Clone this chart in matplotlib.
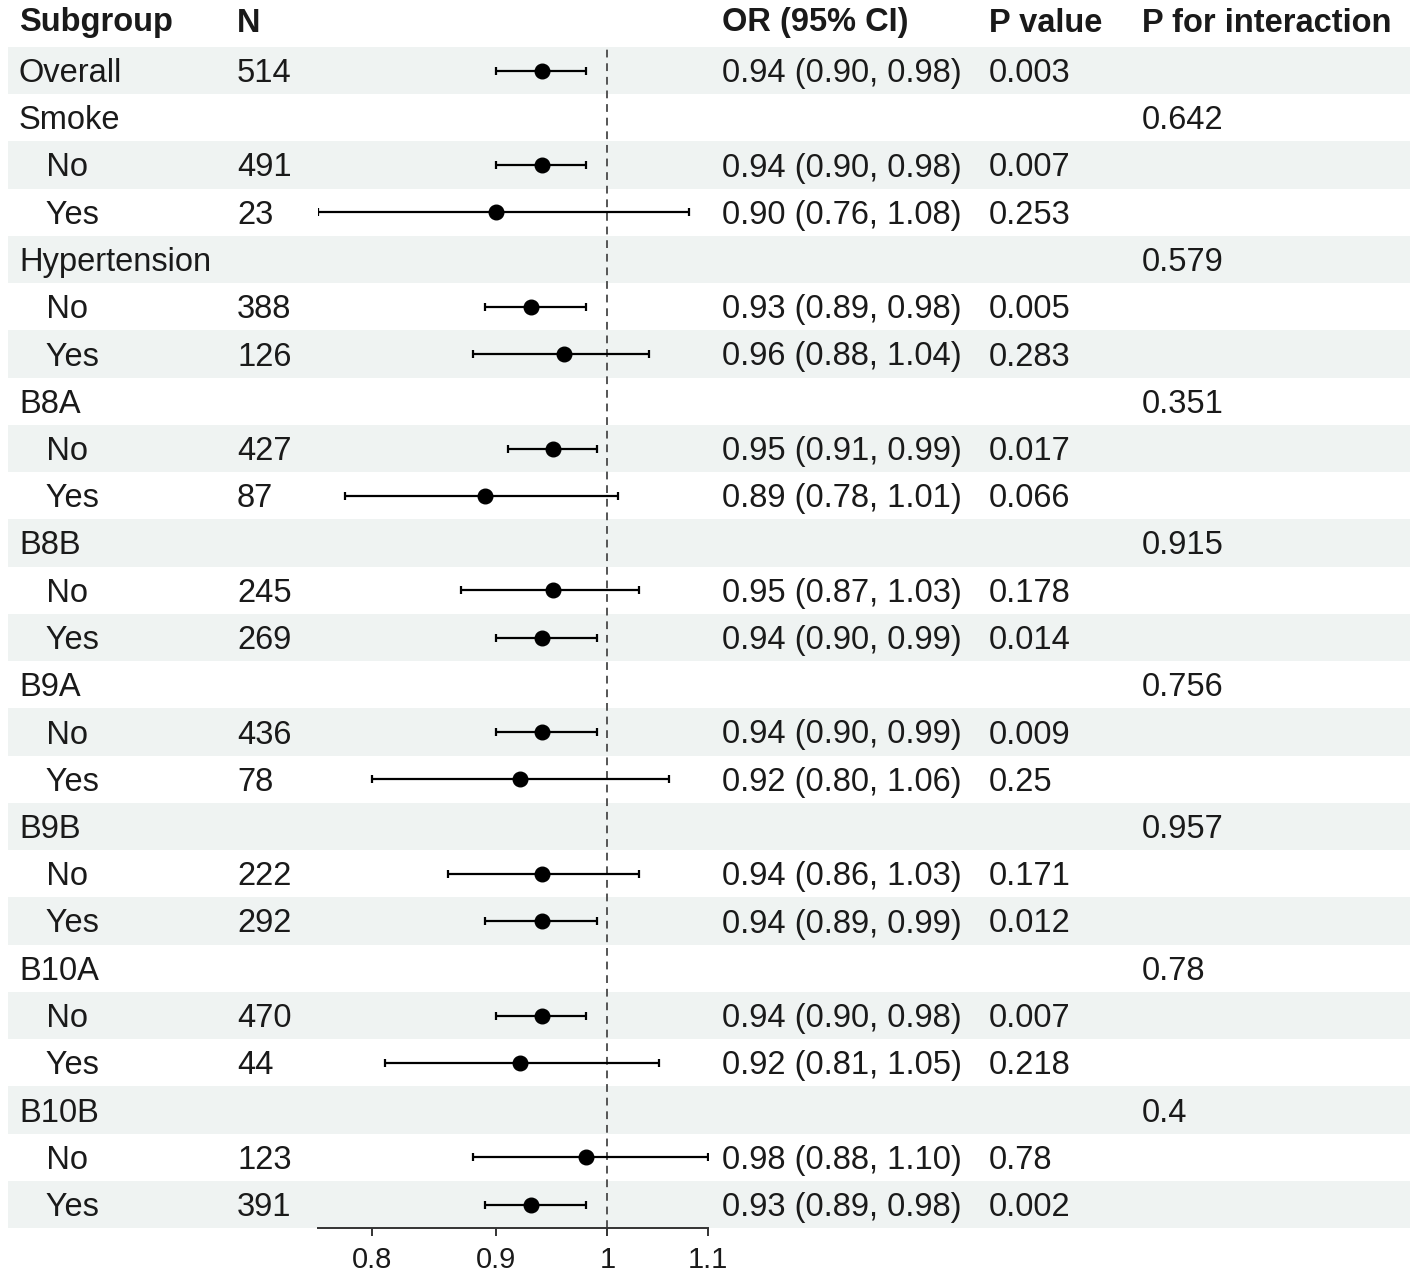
import matplotlib.pyplot as plt
from matplotlib.patches import Rectangle
from matplotlib.ticker import FixedLocator, FixedFormatter, NullLocator
import numpy as np

plt.rcParams["font.family"] = ["Liberation Sans", "DejaVu Sans"]

# table data
subgroup = ["Overall", "Smoke", "   No", "   Yes", "Hypertension", "   No", "   Yes",
            "B8A", "   No", "   Yes", "B8B", "   No", "   Yes", "B9A", "   No", "   Yes",
            "B9B", "   No", "   Yes", "B10A", "   No", "   Yes", "B10B", "   No", "   Yes"]
n_obs = ["514", "", "491", "23", "", "388", "126", "", "427", "87", "", "245", "269",
         "", "436", "78", "", "222", "292", "", "470", "44", "", "123", "391"]
est = [0.94, np.nan, 0.94, 0.90, np.nan, 0.93, 0.96, np.nan, 0.95, 0.89, np.nan, 0.95, 0.94,
       np.nan, 0.94, 0.92, np.nan, 0.94, 0.94, np.nan, 0.94, 0.92, np.nan, 0.98, 0.93]
low = [0.90, np.nan, 0.90, 0.76, np.nan, 0.89, 0.88, np.nan, 0.91, 0.78, np.nan, 0.87, 0.90,
       np.nan, 0.90, 0.80, np.nan, 0.86, 0.89, np.nan, 0.90, 0.81, np.nan, 0.88, 0.89]
high = [0.98, np.nan, 0.98, 1.08, np.nan, 0.98, 1.04, np.nan, 0.99, 1.01, np.nan, 1.03, 0.99,
        np.nan, 0.99, 1.06, np.nan, 1.03, 0.99, np.nan, 0.98, 1.05, np.nan, 1.10, 0.98]
p_value = ["0.003", "", "0.007", "0.253", "", "0.005", "0.283", "", "0.017", "0.066", "",
           "0.178", "0.014", "", "0.009", "0.25", "", "0.171", "0.012", "", "0.007", "0.218",
           "", "0.78", "0.002"]
p_inter = ["", "0.642", "", "", "0.579", "", "", "0.351", "", "", "0.915", "", "", "0.756",
           "", "", "0.957", "", "", "0.78", "", "", "0.4", "", ""]
headers = ["Subgroup", "N", "OR (95% CI)", "P value", "P for interaction"]
ticks = [0.8, 0.9, 1, 1.1]
tick_labels = ["0.8", "0.9", "1", "1.1"]

W, H = 1418, 1278
row0, row_h = 70.5, 47.25
col_x = [19, 237, 722, 989, 1142]
fs = 23.5
txt_col = "#1a1a1a"
dy = 3  # text sits a touch below the row centre

fig = plt.figure(figsize=(W / 100, H / 100), dpi=100)
tab = fig.add_axes([0, 0, 1, 1])
tab.set_xlim(0, W)
tab.set_ylim(H, 0)
tab.axis("off")

nrow = len(subgroup)
for i in range(nrow):
    y = row0 + i * row_h
    if i % 2 == 0:
        tab.add_patch(Rectangle((8, y - row_h / 2), 1402, row_h, color="#eff3f2", lw=0, zorder=0))
    or_txt = "" if np.isnan(est[i]) else f"{est[i]:.2f} ({low[i]:.2f}, {high[i]:.2f})"
    for x, s in zip(col_x, [subgroup[i], n_obs[i], or_txt, p_value[i], p_inter[i]]):
        tab.text(x, y + dy, s, fontsize=fs, color=txt_col, va="center", ha="left")

for x, s in zip(col_x, headers):
    tab.text(x, 20 + dy, s, fontsize=fs, color=txt_col, va="center", ha="left", fontweight="bold")

# forest panel
top = row0 - row_h / 2
bottom = row0 + (nrow - 0.5) * row_h
x0, x1 = 318, 708
ax = fig.add_axes([x0 / W, 1 - bottom / H, (x1 - x0) / W, (bottom - top) / H])
ax.patch.set_alpha(0)
ax.set_xscale("log")
ax.set_xlim(0.76, 1.1)
ax.set_ylim(nrow - 0.5, -0.5)

rows = np.arange(nrow)
est_a, low_a, high_a = np.array(est), np.array(low), np.array(high)
ok = ~np.isnan(est_a)
ax.errorbar(est_a[ok], rows[ok], xerr=[est_a[ok] - low_a[ok], high_a[ok] - est_a[ok]],
            fmt="o", color="black", ms=10.5, elinewidth=1.6, capsize=3, capthick=1.6, zorder=3)
ax.axvline(1, color="#555555", ls=(0, (4, 3)), lw=1.4, zorder=2)

for sp in ["top", "left", "right"]:
    ax.spines[sp].set_visible(False)
ax.spines["bottom"].set_color("#333333")
ax.spines["bottom"].set_linewidth(1.4)
ax.yaxis.set_visible(False)
ax.xaxis.set_major_locator(FixedLocator(ticks))
ax.xaxis.set_major_formatter(FixedFormatter(tick_labels))
ax.xaxis.set_minor_locator(NullLocator())
ax.tick_params(axis="x", length=6, width=1.4, color="#333333", labelsize=21,
               labelcolor=txt_col, pad=7)

fig.savefig("out.png", dpi=100)
